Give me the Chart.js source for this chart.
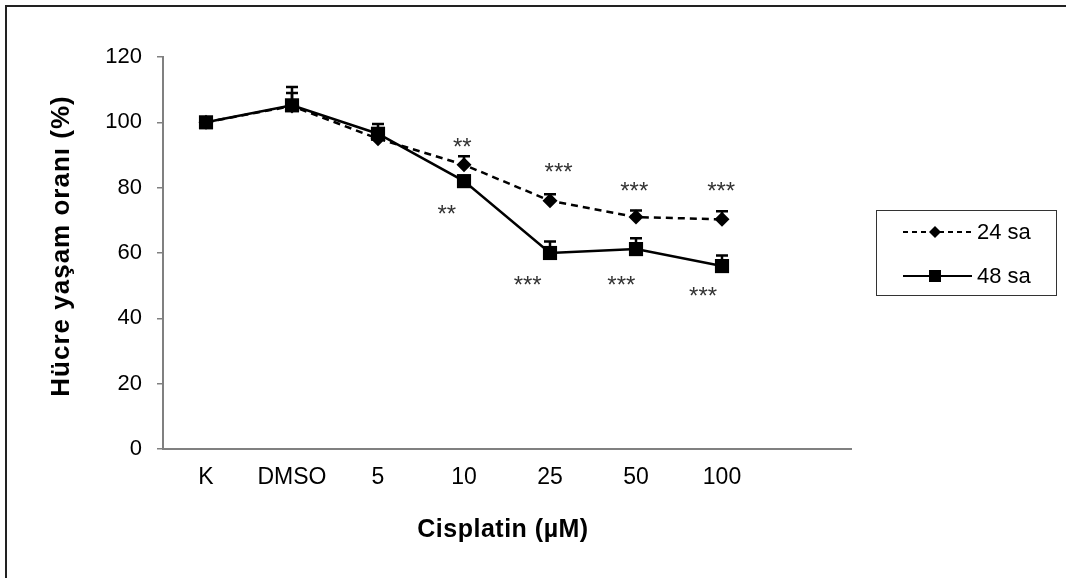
<!DOCTYPE html>
<html>
<head>
<meta charset="utf-8">
<script src="https://cdn.jsdelivr.net/npm/chart.js@4"></script>
<style>
  html, body { margin: 0; padding: 0; background: #fff; }
  #wrap { position: relative; width: 1066px; height: 578px; }
  #frame { position: absolute; left: 5px; top: 5px; right: 0; bottom: 0;
           border-left: 2px solid #222; border-top: 2px solid #222; }
  canvas { position: absolute; left: 0; top: 0; }
</style>
</head>
<body>
<div id="wrap">
  <div id="frame"></div>
  <canvas id="chart" width="1066" height="578"></canvas>
</div>
<script>
const categories = ["K", "DMSO", "5", "10", "25", "50", "100", ""];
const yTicks = [0, 20, 40, 60, 80, 100, 120];

const series24 = [100, 105, 95, 87, 76, 71, 70.3];
const err24 = [0, 4, 2, 2.6, 2, 2, 2.5];
const series48 = [100, 105.2, 96.5, 82, 60, 61.2, 56];
const err48 = [0, 5.6, 3, 0, 3.5, 3.3, 3.2];

// significance marks: label, x in category units, y in value units
const sigLabels = ["**", "**", "***", "***", "***", "***", "***", "***"];
const sigX = [2.98, 2.8, 4.1, 4.98, 5.99, 3.74, 4.83, 5.78];
const sigY = [93.6, 73.2, 86, 80, 80, 51.4, 51.4, 47.8];

const FONT = "'Liberation Sans', Arial, sans-serif";

const errorBars = {
  id: "errorBars",
  beforeDatasetsDraw(chart) {
    const { ctx, scales: { x, y } } = chart;
    ctx.save();
    ctx.strokeStyle = "#000";
    ctx.lineWidth = 2.5;
    [[series24, err24], [series48, err48]].forEach(([vals, errs]) => {
      vals.forEach((v, i) => {
        if (!errs[i]) return;
        const px = x.getPixelForValue(i);
        const y0 = y.getPixelForValue(v);
        const y1 = y.getPixelForValue(v + errs[i]);
        ctx.beginPath();
        ctx.moveTo(px, y0);
        ctx.lineTo(px, y1);
        ctx.moveTo(px - 6, y1);
        ctx.lineTo(px + 6, y1);
        ctx.stroke();
      });
    });
    ctx.restore();
  }
};

const extras = {
  id: "extras",
  afterDraw(chart) {
    const { ctx, scales: { x, y } } = chart;
    ctx.save();

    // significance stars
    ctx.fillStyle = "#333";
    ctx.font = "24px " + FONT;
    ctx.textAlign = "center";
    ctx.textBaseline = "middle";
    sigLabels.forEach((s, i) => {
      ctx.fillText(s, x.getPixelForValue(sigX[i]), y.getPixelForValue(sigY[i]) + 5);
    });

    // axis titles
    ctx.fillStyle = "#000";
    ctx.font = "bold 25px " + FONT;
    ctx.letterSpacing = "0.5px";
    ctx.fillText("Cisplatin (µM)", 503, 530);
    ctx.save();
    ctx.translate(62, 246);
    ctx.rotate(-Math.PI / 2);
    ctx.font = "bold 26px " + FONT;
    ctx.letterSpacing = "1px";
    ctx.fillText("Hücre yaşam oranı (%)", 0, 0);
    ctx.restore();
    ctx.letterSpacing = "0px";

    // legend
    ctx.strokeStyle = "#333";
    ctx.lineWidth = 1;
    ctx.strokeRect(876.5, 210.5, 180, 85);
    const rows = [
      { label: "24 sa", y: 232, dash: [5, 4], marker: "diamond" },
      { label: "48 sa", y: 276, dash: [], marker: "square" }
    ];
    rows.forEach(r => {
      ctx.strokeStyle = "#000";
      ctx.lineWidth = 2;
      ctx.setLineDash(r.dash);
      ctx.beginPath();
      ctx.moveTo(903, r.y);
      ctx.lineTo(972, r.y);
      ctx.stroke();
      ctx.setLineDash([]);
      ctx.fillStyle = "#000";
      if (r.marker === "diamond") {
        ctx.beginPath();
        ctx.moveTo(935, r.y - 6);
        ctx.lineTo(941, r.y);
        ctx.lineTo(935, r.y + 6);
        ctx.lineTo(929, r.y);
        ctx.closePath();
        ctx.fill();
      } else {
        ctx.fillRect(929, r.y - 6, 12, 12);
      }
      ctx.textAlign = "left";
      ctx.textBaseline = "middle";
      ctx.font = "22px " + FONT;
      ctx.fillText(r.label, 977, r.y + 1);
    });
    ctx.restore();
  }
};

new Chart(document.getElementById("chart"), {
  type: "line",
  data: {
    labels: categories,
    datasets: [
      {
        label: "24 sa",
        data: series24,
        borderColor: "#000",
        backgroundColor: "#000",
        borderWidth: 2.5,
        borderDash: [7, 5],
        pointStyle: "rectRot",
        pointRadius: 7.5,
        pointBorderWidth: 0,
        order: 1
      },
      {
        label: "48 sa",
        data: series48,
        borderColor: "#000",
        backgroundColor: "#000",
        borderWidth: 2.5,
        pointStyle: "rect",
        pointRadius: 10,
        pointBorderWidth: 0,
        order: 0
      }
    ]
  },
  options: {
    responsive: false,
    animation: false,
    layout: { padding: { left: 0, top: 57, right: 215, bottom: 0 } },
    plugins: {
      legend: { display: false },
      tooltip: { enabled: false }
    },
    scales: {
      x: {
        offset: true,
        grid: { display: false, drawTicks: false },
        border: { display: true, color: "#808080", width: 2 },
        ticks: { color: "#000", font: { family: FONT, size: 23 }, padding: 15, maxRotation: 0, autoSkip: false },
        afterFit(scale) { scale.height = 129; }
      },
      y: {
        min: 0,
        max: 120,
        afterBuildTicks(scale) { scale.ticks = yTicks.map(v => ({ value: v })); },
        grid: { drawOnChartArea: false, drawTicks: true, tickLength: 6, color: "#808080", lineWidth: 1.5 },
        border: { display: true, color: "#808080", width: 2 },
        ticks: { color: "#000", font: { family: FONT, size: 22 }, padding: 15 },
        afterFit(scale) { scale.width = 163; }
      }
    }
  },
  plugins: [errorBars, extras]
});
</script>
</body>
</html>
